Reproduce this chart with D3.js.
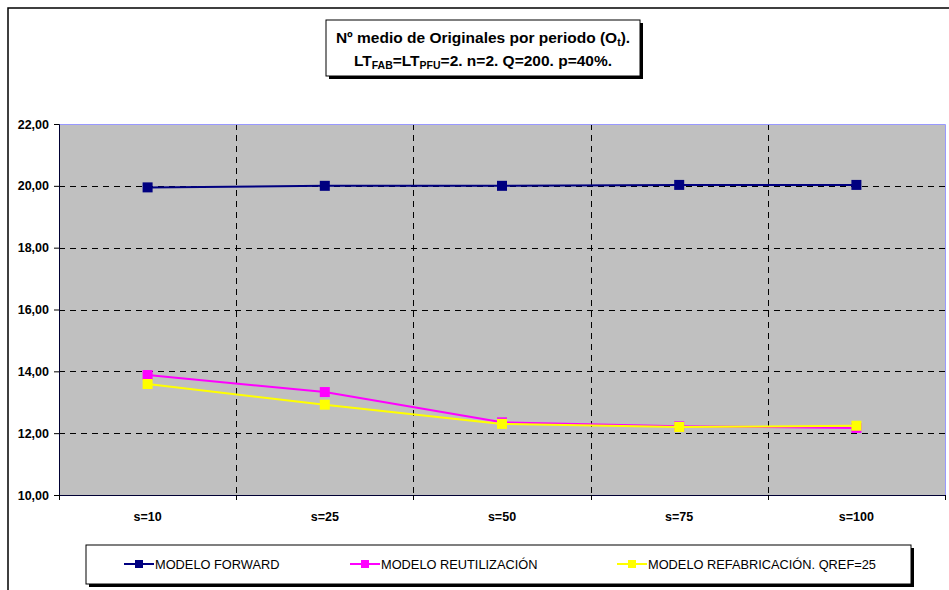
<!DOCTYPE html>
<html><head><meta charset="utf-8">
<script src="https://cdn.jsdelivr.net/npm/d3@7"></script>
<style>body{margin:0;background:#fff;}svg{display:block;font-family:"Liberation Sans",Arial,sans-serif;}</style>
</head><body><svg id="c" width="949" height="590"></svg>
<script>
const categories = ["s=10","s=25","s=50","s=75","s=100"];
const forward = [19.95, 20.00, 20.00, 20.03, 20.03];
const reutilizacion = [13.88, 13.33, 12.35, 12.22, 12.17];
const refabricacion = [13.59, 12.92, 12.30, 12.20, 12.24];
const yTicks = [10,12,14,16,18,20,22];
const seriesNames = ["MODELO FORWARD","MODELO REUTILIZACIÓN","MODELO REFABRICACIÓN. QREF=25"];
const seriesColors = ["#000080","#ff00ff","#ffff00"];

const svg = d3.select("#c");
svg.append("rect").attr("x",8).attr("y",8).attr("width",960).attr("height",600).attr("fill","none").attr("stroke","#000").attr("stroke-width",1.5);

const L=59,R=945,T=124,B=495;
const x = d3.scaleBand().domain(categories).range([L,R]);
const y = d3.scaleLinear().domain([10,22]).range([B,T]);

svg.append("rect").attr("x",L).attr("y",T).attr("width",R-L).attr("height",B-T).attr("fill","#c0c0c0");
svg.selectAll(".hg").data(yTicks.filter(v=>v>10&&v<22)).enter().append("line")
 .attr("x1",L).attr("x2",R).attr("y1",d=>Math.round(y(d))+0.5).attr("y2",d=>Math.round(y(d))+0.5)
 .attr("stroke","#000").attr("stroke-dasharray","6,5").attr("stroke-width",1);
const bounds = categories.slice(1).map(c=>x(c));
svg.selectAll(".vg").data(bounds).enter().append("line")
 .attr("x1",d=>Math.round(d)+0.5).attr("x2",d=>Math.round(d)+0.5).attr("y1",T).attr("y2",B)
 .attr("stroke","#000").attr("stroke-dasharray","6,5").attr("stroke-width",1);
svg.append("path").attr("d",`M${L},${T+0.5}H${R+0.5}V${B}`).attr("fill","none").attr("stroke","#9999ff").attr("stroke-width",1);

const ya = svg.append("g").attr("transform",`translate(${L},0)`)
 .call(d3.axisLeft(y).tickValues(yTicks).tickSize(5).tickPadding(5).tickFormat(d=>d3.format(".2f")(d).replace(".",",")));
ya.select(".domain").attr("stroke","#000033");
ya.selectAll("text").attr("font-size","12.5px").attr("font-weight","bold").attr("fill","#000").attr("font-family","Liberation Sans, Arial, sans-serif");
const xa = svg.append("g").attr("transform",`translate(0,${B})`).call(d3.axisBottom(x).tickSize(0).tickPadding(17));
xa.select(".domain").attr("stroke","#000033");
xa.selectAll("text").attr("font-size","12.5px").attr("font-weight","bold").attr("fill","#000").attr("font-family","Liberation Sans, Arial, sans-serif");
svg.selectAll(".xt").data([L].concat(bounds).concat([R])).enter().append("line")
 .attr("x1",d=>Math.round(d)+0.5).attr("x2",d=>Math.round(d)+0.5).attr("y1",B).attr("y2",B+5).attr("stroke","#000");

const line = d3.line().x((d,i)=>x(categories[i])+x.bandwidth()/2).y(d=>y(d));
[forward,reutilizacion,refabricacion].forEach((s,k)=>{
  svg.append("path").datum(s).attr("d",line).attr("fill","none").attr("stroke",seriesColors[k]).attr("stroke-width",2);
  svg.selectAll(".m"+k).data(s).enter().append("rect")
   .attr("x",(d,i)=>x(categories[i])+x.bandwidth()/2-5).attr("y",d=>y(d)-5).attr("width",10).attr("height",10).attr("fill",seriesColors[k]);
});

svg.append("rect").attr("x",329).attr("y",23).attr("width",314).attr("height",56).attr("fill","#000");
svg.append("rect").attr("x",326).attr("y",20).attr("width",314).attr("height",56).attr("fill","#fff").attr("stroke","#000").attr("stroke-width",1);
const t1 = svg.append("text").attr("x",483).attr("y",43).attr("text-anchor","middle").attr("font-size","15.5px").attr("font-weight","bold");
t1.append("tspan").text("Nº medio de Originales por periodo (O");
t1.append("tspan").attr("font-size","10.5px").attr("dy",3).text("t");
t1.append("tspan").attr("dy",-3).text(").");
const t2 = svg.append("text").attr("x",483).attr("y",66).attr("text-anchor","middle").attr("font-size","15.5px").attr("font-weight","bold");
t2.append("tspan").text("LT");
t2.append("tspan").attr("font-size","10.5px").attr("dy",3).text("FAB");
t2.append("tspan").attr("dy",-3).text("=LT");
t2.append("tspan").attr("font-size","10.5px").attr("dy",3).text("PFU");
t2.append("tspan").attr("dy",-3).text("=2. n=2. Q=200. p=40%.");

svg.append("rect").attr("x",89).attr("y",548).attr("width",825).attr("height",39).attr("fill","#000");
svg.append("rect").attr("x",86).attr("y",545).attr("width",825).attr("height",39).attr("fill","#fff").attr("stroke","#000").attr("stroke-width",1);
const lx = [124, 350, 617];
seriesNames.forEach((n,k)=>{
  const g = svg.append("g").attr("transform",`translate(${lx[k]},564)`);
  g.append("line").attr("x1",0).attr("x2",30).attr("y1",0).attr("y2",0).attr("stroke",seriesColors[k]).attr("stroke-width",2);
  g.append("rect").attr("x",11).attr("y",-4).attr("width",8).attr("height",8).attr("fill",seriesColors[k]);
  g.append("text").attr("x",31).attr("y",4.5).attr("font-size","12.8px").attr("fill","#000").text(n);
});
</script></body></html>
